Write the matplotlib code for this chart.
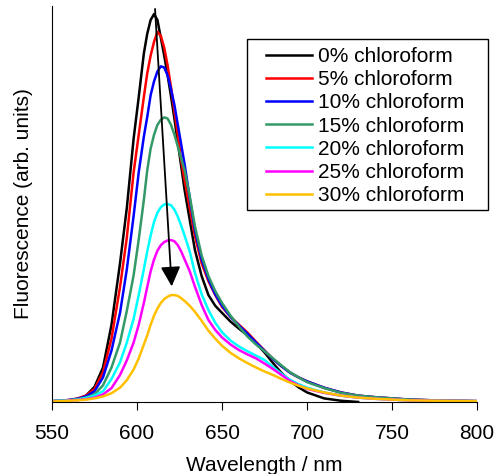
import numpy as np
import matplotlib
matplotlib.use('Agg')
import matplotlib.pyplot as plt
from matplotlib.patches import Rectangle

plt.rcParams['font.family'] = ['Liberation Sans', 'DejaVu Sans']

# wavelength grid (nm)
wl = [550, 555, 560, 565, 570, 575, 580, 585, 590, 594, 598, 601, 604, 606, 608, 610,
      612, 614, 616, 618, 620, 622, 624, 626, 628, 631, 634, 638, 642, 646, 650, 655,
      660, 665, 670, 675, 680, 685, 690, 695, 700, 710, 720, 730, 740, 750, 760, 775, 800]

nan = np.nan
f0 = [nan, nan, nan, 0.005, 0.016, 0.038, 0.087, 0.195, 0.35, 0.49, 0.665, 0.77, 0.88, 0.93, 0.965, 0.98,
      0.965, 0.92, 0.875, 0.825, 0.772, 0.715, 0.655, 0.595, 0.535, 0.46, 0.385, 0.318, 0.27, 0.243, 0.225, 0.203,
      0.185, 0.168, 0.148, 0.125, 0.098, 0.073, 0.053, 0.037, 0.024, 0.009, 0.003, 0.0, nan, nan, nan, nan, nan]
f5 = [0.002, 0.003, 0.005, 0.009, 0.016, 0.033, 0.075, 0.16, 0.29, 0.415, 0.58, 0.675, 0.77, 0.83, 0.875, 0.91,
      0.935, 0.925, 0.895, 0.85, 0.795, 0.735, 0.675, 0.61, 0.56, 0.49, 0.42, 0.35, 0.305, 0.27, 0.24, 0.215,
      0.195, 0.175, 0.152, 0.13, 0.108, 0.09, 0.074, 0.062, 0.052, 0.036, 0.024, 0.016, 0.012, 0.009, 0.006, 0.004, 0.002]
f10 = [0.002, 0.003, 0.005, 0.008, 0.014, 0.027, 0.062, 0.13, 0.225, 0.335, 0.47, 0.58, 0.67, 0.72, 0.775, 0.81,
       0.835, 0.848, 0.845, 0.825, 0.79, 0.75, 0.70, 0.65, 0.60, 0.515, 0.435, 0.36, 0.31, 0.272, 0.243, 0.215,
       0.193, 0.172, 0.15, 0.129, 0.108, 0.09, 0.074, 0.062, 0.052, 0.036, 0.024, 0.016, 0.012, 0.009, 0.006, 0.004, 0.002]
f15 = [0.002, 0.003, 0.004, 0.007, 0.011, 0.019, 0.042, 0.087, 0.15, 0.23, 0.32, 0.41, 0.51, 0.585, 0.64, 0.675,
       0.70, 0.713, 0.719, 0.716, 0.70, 0.675, 0.645, 0.615, 0.585, 0.52, 0.445, 0.37, 0.318, 0.28, 0.25, 0.218,
       0.19, 0.165, 0.145, 0.128, 0.11, 0.092, 0.075, 0.062, 0.05, 0.035, 0.023, 0.016, 0.012, 0.009, 0.006, 0.004, 0.002]
f20 = [0.002, 0.003, 0.004, 0.006, 0.01, 0.016, 0.027, 0.058, 0.10, 0.15, 0.21, 0.27, 0.335, 0.38, 0.42, 0.455,
       0.478, 0.492, 0.499, 0.50, 0.497, 0.486, 0.468, 0.445, 0.42, 0.38, 0.327, 0.272, 0.232, 0.2, 0.176, 0.155,
       0.14, 0.128, 0.117, 0.106, 0.088, 0.071, 0.056, 0.045, 0.036, 0.024, 0.016, 0.011, 0.008, 0.006, 0.004, 0.003, 0.002]
f25 = [0.002, 0.002, 0.003, 0.005, 0.007, 0.011, 0.019, 0.035, 0.068, 0.105, 0.15, 0.195, 0.25, 0.29, 0.33, 0.36,
       0.382, 0.396, 0.404, 0.408, 0.409, 0.406, 0.396, 0.38, 0.36, 0.33, 0.292, 0.245, 0.207, 0.182, 0.163, 0.145,
       0.131, 0.12, 0.11, 0.097, 0.083, 0.068, 0.053, 0.042, 0.033, 0.023, 0.016, 0.011, 0.008, 0.006, 0.004, 0.003, 0.002]
f30 = [0.001, 0.002, 0.003, 0.004, 0.006, 0.009, 0.014, 0.022, 0.036, 0.055, 0.082, 0.11, 0.145, 0.168, 0.195, 0.218,
       0.236, 0.25, 0.26, 0.266, 0.27, 0.27, 0.268, 0.262, 0.255, 0.243, 0.228, 0.205, 0.18, 0.16, 0.142, 0.124,
       0.11, 0.098, 0.087, 0.077, 0.068, 0.058, 0.049, 0.041, 0.034, 0.024, 0.016, 0.011, 0.008, 0.006, 0.004, 0.003, 0.002]

series = [f0, f5, f10, f15, f20, f25, f30]
labels = ['0% chloroform', '5% chloroform', '10% chloroform', '15% chloroform',
          '20% chloroform', '25% chloroform', '30% chloroform']
colors = ['#000000', '#FF0000', '#0000FF', '#339966', '#00FFFF', '#FF00FF', '#FFC000']

fig = plt.figure(figsize=(4.95, 4.74), dpi=100)
ax = fig.add_axes([0.105, 0.152, 0.859, 0.835])

for y, lab, c in zip(series, labels, colors):
    ax.plot(wl, y, color=c, lw=1.8, label=lab)

# arrow: peak drops as chloroform goes up
ax.annotate('', xy=(620.5, 0.285), xytext=(610.5, 1.0),
            arrowprops=dict(arrowstyle='-|>', color='black', lw=1.3, mutation_scale=30))

ax.set_xlim(550, 800)
ax.set_ylim(0, 1)
ax.set_xticks([550, 600, 650, 700, 750, 800])
ax.set_yticks([])
ax.spines['top'].set_visible(False)
ax.spines['right'].set_visible(False)
ax.tick_params(axis='x', direction='out', length=6, labelsize=15, pad=10)
ax.set_xlabel('Wavelength / nm', fontsize=15, labelpad=9)
ax.set_ylabel('Fluorescence (arb. units)', fontsize=15, labelpad=14)

ax.legend(loc='upper left', bbox_to_anchor=(266 / 495, 1 - 47 / 474),
          bbox_transform=fig.transFigure, fontsize=15, frameon=False,
          handlelength=2.2, handletextpad=0.3, labelspacing=0.2,
          borderpad=0, borderaxespad=0)
fig.patches.append(Rectangle((247 / 495, 1 - 210 / 474), 241 / 495, 171 / 474,
                             transform=fig.transFigure, fill=False,
                             edgecolor='black', lw=1.0))

fig.savefig('out.png', dpi=100)
